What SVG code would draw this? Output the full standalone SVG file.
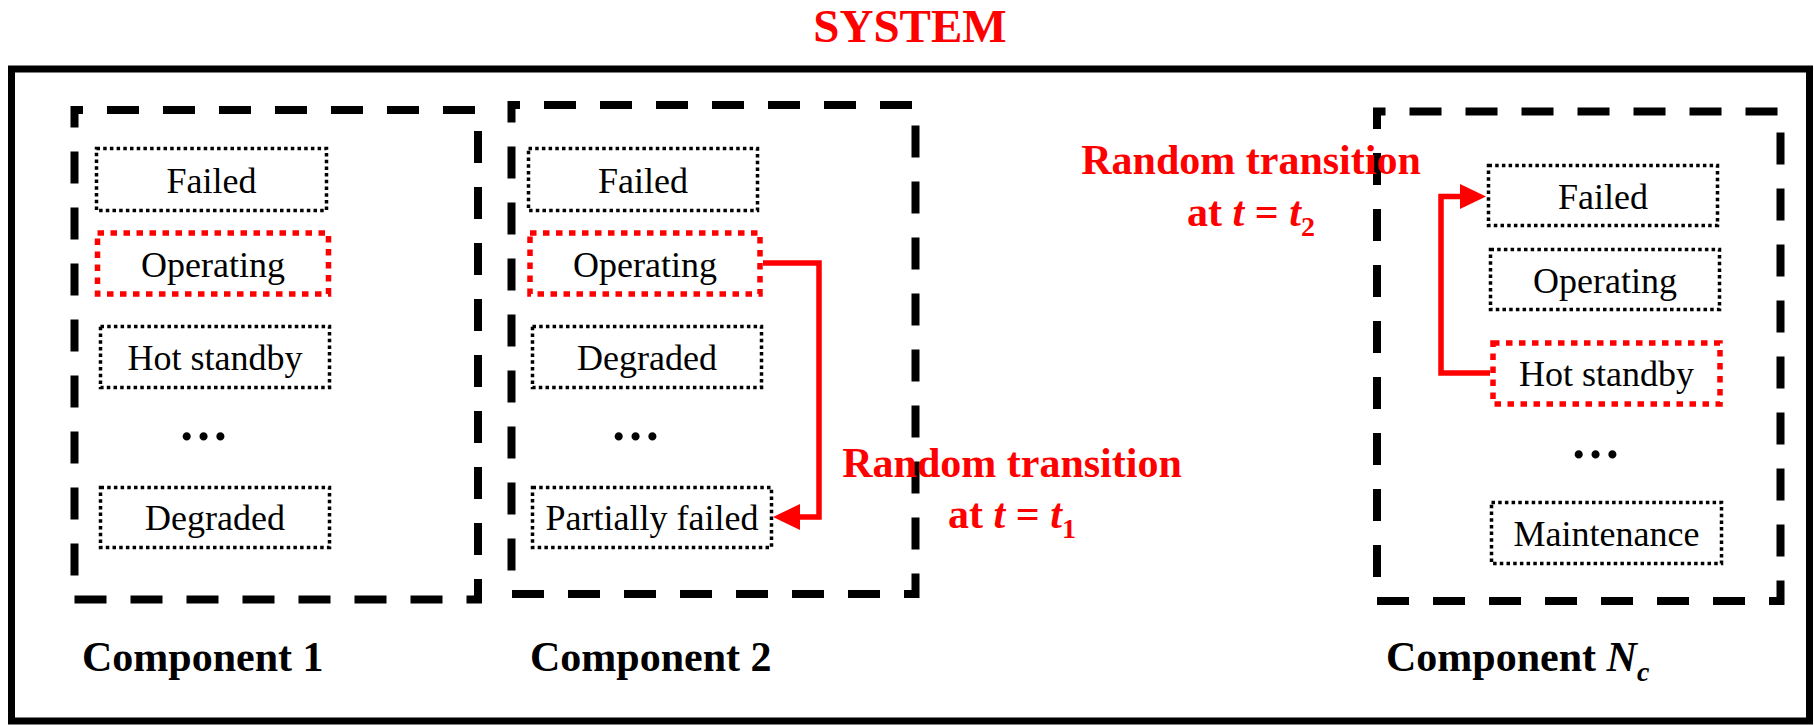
<svg xmlns="http://www.w3.org/2000/svg" width="1814" height="725" viewBox="0 0 1814 725">
<style>
.comp{fill:none;stroke:#000;stroke-width:8;stroke-dasharray:32 24;stroke-dashoffset:23.5}
.st{fill:none;stroke:#000;stroke-width:3.5;stroke-dasharray:3.5 3.2}
.str{fill:none;stroke:#ff0000;stroke-width:5.5;stroke-dasharray:6.5 6.5}
.lbl{font-family:'Liberation Serif','Times New Roman',serif;font-size:36px;fill:#000;text-anchor:middle}
.dots{font-family:'Liberation Serif','Times New Roman',serif;font-size:50px;font-weight:bold;fill:#000;text-anchor:middle}
.cname{font-family:'Liberation Serif','Times New Roman',serif;font-size:42px;font-weight:bold;fill:#000}
.red{font-family:'Liberation Serif','Times New Roman',serif;font-size:42px;font-weight:bold;fill:#ff0000;text-anchor:middle}
.conn{fill:none;stroke:#ff0000;stroke-width:5.5}
</style>
<rect id="system" x="11.5" y="69" width="1798" height="652" fill="none" stroke="#000" stroke-width="7"/>
<text id="title" x="910" y="42" font-family="'Liberation Serif','Times New Roman',serif" font-size="47" font-weight="bold" fill="#ff0000" text-anchor="middle">SYSTEM</text>

<g id="component1">
<rect class="comp" x="74.5" y="110" width="403.5" height="489.5"/>
<g id="c1-failed"><rect class="st" x="96.5" y="148.5" width="230" height="62"/><text class="lbl" x="211.5" y="193">Failed</text></g>
<g id="c1-operating"><rect class="str" x="97.5" y="233" width="231" height="61"/><text class="lbl" x="213" y="276.5">Operating</text></g>
<g id="c1-hot"><rect class="st" x="100.5" y="326.5" width="229" height="61"/><text class="lbl" x="215" y="370">Hot standby</text></g>
<text class="dots" x="203.5" y="440">…</text>
<g id="c1-degraded"><rect class="st" x="100.5" y="487.5" width="229" height="60"/><text class="lbl" x="215" y="530">Degraded</text></g>
<text class="cname" x="82" y="671">Component 1</text>
</g>

<g id="component2">
<rect class="comp" x="511.5" y="105" width="404" height="489"/>
<g id="c2-failed"><rect class="st" x="528.5" y="148.5" width="229" height="62"/><text class="lbl" x="643" y="193">Failed</text></g>
<g id="c2-operating"><rect class="str" x="530" y="233" width="230" height="61"/><text class="lbl" x="645" y="276.5">Operating</text></g>
<g id="c2-degraded"><rect class="st" x="532.5" y="326.5" width="229" height="61"/><text class="lbl" x="647" y="370">Degraded</text></g>
<text class="dots" x="635.5" y="440">…</text>
<g id="c2-partial"><rect class="st" x="532.5" y="487.5" width="239" height="60"/><text class="lbl" x="652" y="530">Partially failed</text></g>
<text class="cname" x="530" y="671">Component 2</text>
</g>

<g id="componentN">
<rect class="comp" x="1377" y="111.5" width="403.5" height="489.5"/>
<g id="cn-failed"><rect class="st" x="1488.5" y="165.5" width="229" height="60"/><text class="lbl" x="1603" y="209">Failed</text></g>
<g id="cn-operating"><rect class="st" x="1490.5" y="249.5" width="229" height="60"/><text class="lbl" x="1605" y="293">Operating</text></g>
<g id="cn-hot"><rect class="str" x="1493" y="343" width="227" height="61"/><text class="lbl" x="1606.5" y="386">Hot standby</text></g>
<text class="dots" x="1595.5" y="458">…</text>
<g id="cn-maint"><rect class="st" x="1491.5" y="502.5" width="230" height="61"/><text class="lbl" x="1606.5" y="546">Maintenance</text></g>
<text class="cname" x="1386" y="671">Component <tspan font-style="italic">N</tspan><tspan font-style="italic" font-size="28" dy="10">c</tspan></text>
</g>

<g id="connectors">
<path class="conn" d="M763 263 H819 V517 H798"/>
<polygon points="773,517 800,504 800,530" fill="#ff0000"/>
<path class="conn" d="M1490 373 H1441 V196.5 H1462"/>
<polygon points="1486,196.5 1460,184 1460,209" fill="#ff0000"/>
</g>

<g id="labels">
<text class="red" x="1012" y="477">Random transition</text>
<text class="red" x="1012" y="528">at <tspan font-style="italic">t</tspan> = <tspan font-style="italic">t</tspan><tspan font-size="28" dy="10">1</tspan></text>
<text class="red" x="1251" y="174">Random transition</text>
<text class="red" x="1251" y="225.5">at <tspan font-style="italic">t</tspan> = <tspan font-style="italic">t</tspan><tspan font-size="28" dy="10">2</tspan></text>
</g>
</svg>
